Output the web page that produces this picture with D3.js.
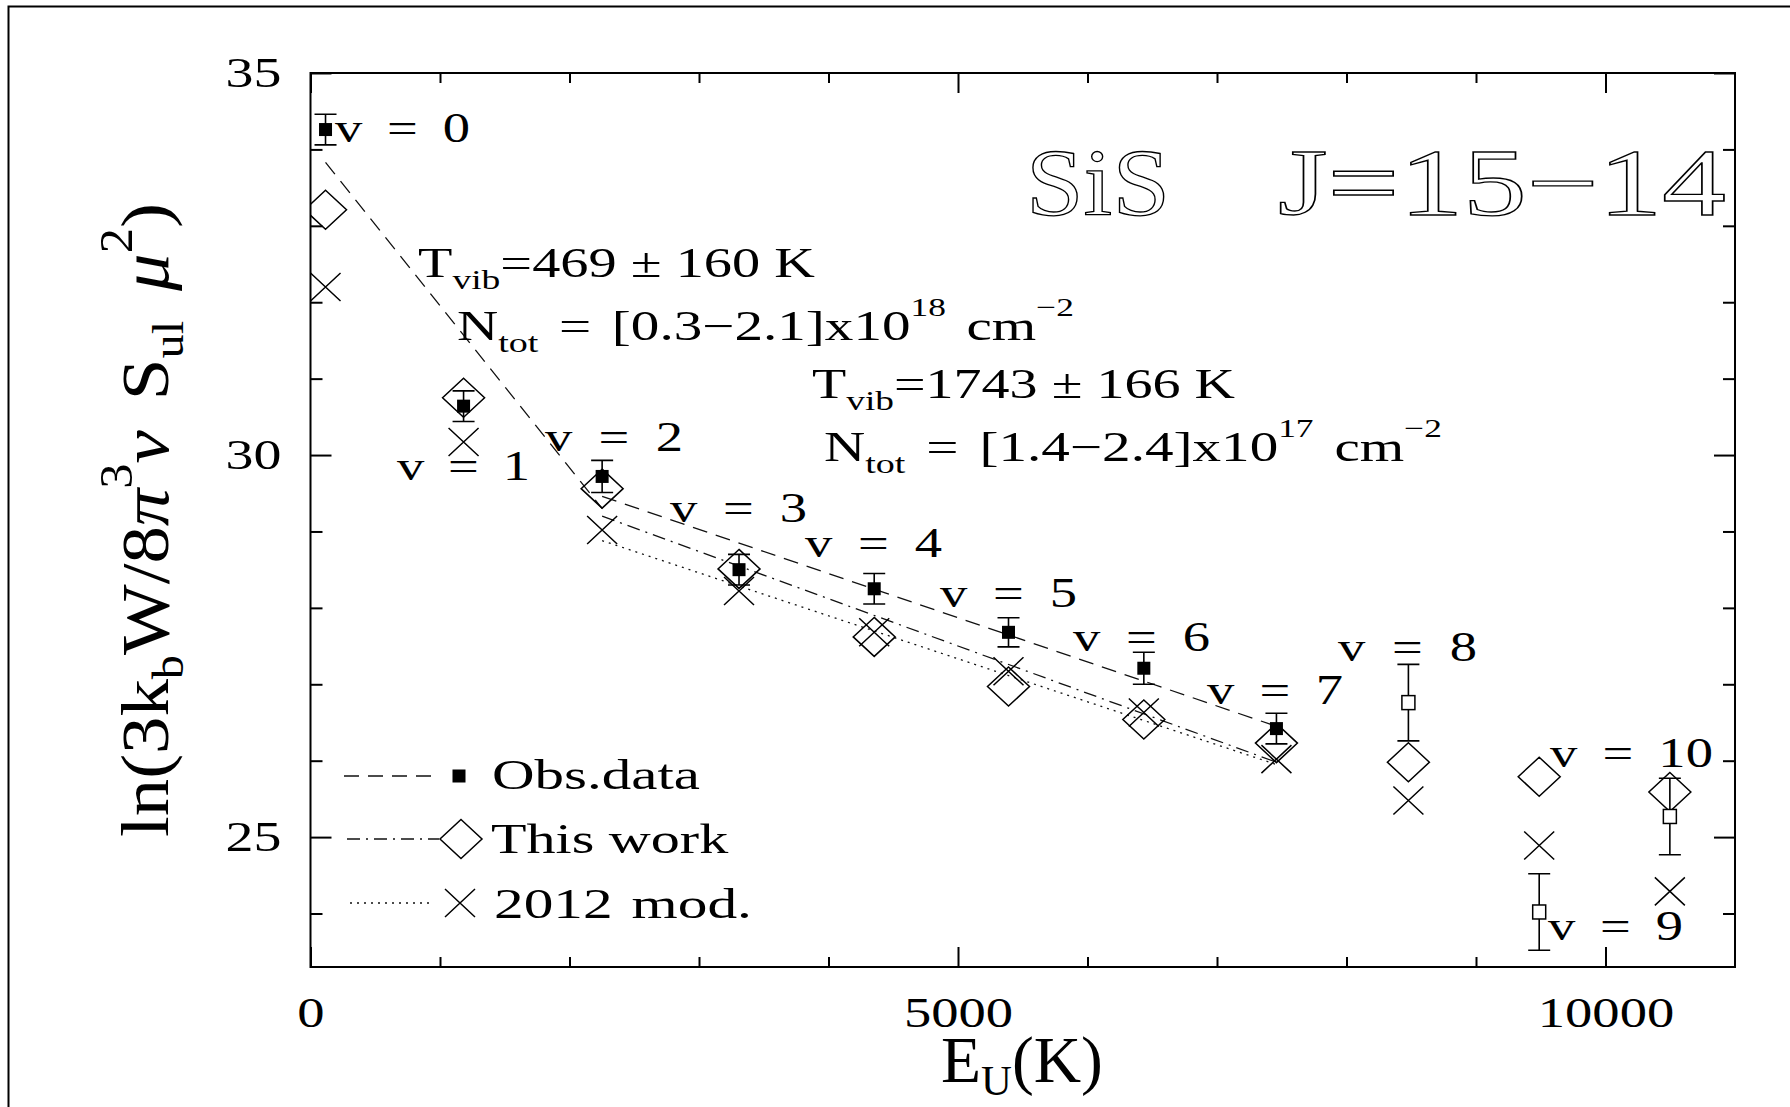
<!DOCTYPE html>
<html>
<head>
<meta charset="utf-8">
<script src="https://cdn.jsdelivr.net/npm/d3@7"></script>
<style>
  html, body { margin: 0; padding: 0; background: #fff; }
  svg { display: block; }
  text { font-family: "Liberation Serif", "DejaVu Serif", serif; fill: #000; white-space: pre; }
</style>
</head>
<body>
<svg id="chart" width="1790" height="1107"></svg>
<script>
// SiS J=15-14 rotational diagram across vibrational levels v = 0..10
const levels        = [0, 1, 2, 3, 4, 5, 6, 7, 8, 9, 10];
const upperEnergy   = [116, 1182, 2252, 3309, 4353, 5390, 6435, 7459, 8478, 9488, 10497]; // E_U (K)
const obsValue      = [34.26, 30.64, 29.72, 28.50, 28.25, 27.68, 27.21, 26.42, 26.76, 24.02, 25.27];
const obsError      = [0.20, 0.20, 0.21, 0.20, 0.20, 0.19, 0.21, 0.20, 0.50, 0.50, 0.50];
const obsTentative  = [false, false, false, false, false, false, false, false, true, true, true];
const thisWork      = [33.21, 30.75, 29.56, 28.51, 27.62, 26.97, 26.54, 26.23, 25.98, 25.79, 25.59];
const model2012     = [32.20, 30.17, 29.02, 28.22, 27.68, 27.17, 26.63, 26.02, 25.48, 24.89, 24.29];

// straight-line fits (end points)
const fitObsLowE  = [116, 2252],  fitObsLowV  = [33.83, 29.30];   // T_vib = 469 K
const fitObsHighE = [2252, 7459], fitObsHighV = [29.46, 26.45];   // T_vib = 1743 K
const fitWorkE    = [2252, 7459], fitWorkV    = [29.20, 25.98];
const fitModelE   = [2252, 7459], fitModelV   = [28.88, 25.95];

// axes
const xDomain = [0, 11000];
const yDomain = [23.3, 35];
const xMajorTicks = [0, 5000, 10000];
const xMinorTicks = [1000, 2000, 3000, 4000, 6000, 7000, 8000, 9000];
const yMajorTicks = [25, 30, 35];
const yMinorTicks = [24, 26, 27, 28, 29, 31, 32, 33, 34];

// text
const levelLabels = levels.map(v => "v = " + v);
const legendNames = ["Obs.data", "This work", "2012 mod."];
const fitTexts = [
  [{t: "T"}, {t: "vib", sub: true}, {t: "=469 ± 160 K"}],
  [{t: "N"}, {t: "tot", sub: true}, {t: " = [0.3−2.1]x10"}, {t: "18", sup: true}, {t: " cm"}, {t: "−2", sup: true}],
  [{t: "T"}, {t: "vib", sub: true}, {t: "=1743 ± 166 K"}],
  [{t: "N"}, {t: "tot", sub: true}, {t: " = [1.4−2.4]x10"}, {t: "17", sup: true}, {t: " cm"}, {t: "−2", sup: true}]
];

// ---------- layout ----------
const plot = {left: 310.5, right: 1735, top: 73, bottom: 967};
const svg = d3.select("#chart");
const x = d3.scaleLinear().domain(xDomain).range([plot.left, plot.right]);
const y = d3.scaleLinear().domain(yDomain).range([plot.bottom, plot.top]);

// text placed between two x limits: glyphs widened a little, spaces take the rest
function fitText(parent, parts, x0, x1, baseline, size, opt) {
  opt = opt || {};
  const t = parent.append("text").attr("x", 0).attr("y", baseline).attr("font-size", size);
  let shift = 0;
  parts.forEach(p => {
    const ts = t.append("tspan").text(p.t);
    let off = 0, fs = size;
    if (p.sub) { off = opt.subShift; fs = opt.subSize; }
    if (p.sup) { off = opt.supShift; fs = opt.supSize; }
    ts.attr("dy", off - shift).attr("font-size", fs);
    if (p.italic) ts.attr("font-style", "italic");
    shift = off;
  });
  const spaces = (t.text().match(/ /g) || []).length;
  let bb = t.node().getBBox();
  if (opt.stretch && spaces > 0) {
    const ws = ((x1 - x0) / opt.stretch - bb.width) / spaces;
    if (ws > 0) { t.style("word-spacing", ws + "px"); bb = t.node().getBBox(); }
  }
  const s = (x1 - x0) / bb.width;
  t.attr("transform", `translate(${x0 - bb.x * s},0) scale(${s},1)`);
  return t;
}

// outer frame
svg.append("path").attr("d", "M8.5,1107V6.5H1790").attr("fill", "none")
  .attr("stroke", "#000").attr("stroke-width", 2);

// ---------- axes ----------
function addAxis(gen, transform, values, size, withLabels) {
  const g = svg.append("g").attr("transform", transform)
    .call(gen.tickValues(values).tickSizeInner(-size).tickSizeOuter(0)
      .tickFormat(withLabels ? d3.format("d") : ""));
  g.select(".domain").remove();
  g.selectAll(".tick line").attr("stroke", "#000").attr("stroke-width", 2);
  return g;
}
const leftMajor = addAxis(d3.axisLeft(y), `translate(${plot.left},0)`, yMajorTicks, 21, true);
addAxis(d3.axisLeft(y), `translate(${plot.left},0)`, yMinorTicks, 12, false);
addAxis(d3.axisRight(y), `translate(${plot.right},0)`, yMajorTicks, 21, false);
addAxis(d3.axisRight(y), `translate(${plot.right},0)`, yMinorTicks, 12, false);
const bottomMajor = addAxis(d3.axisBottom(x), `translate(0,${plot.bottom})`, xMajorTicks, 20, true);
addAxis(d3.axisBottom(x), `translate(0,${plot.bottom})`, xMinorTicks, 10, false);
addAxis(d3.axisTop(x), `translate(0,${plot.top})`, xMajorTicks, 20, false);
addAxis(d3.axisTop(x), `translate(0,${plot.top})`, xMinorTicks, 10, false);

leftMajor.selectAll(".tick text")
  .attr("x", 0).attr("dy", "0.32em").attr("font-size", 43)
  .attr("transform", "translate(-29,0) scale(1.3,1)");
bottomMajor.selectAll(".tick text")
  .attr("y", 60).attr("dy", 0).attr("font-size", 42)
  .attr("transform", "scale(1.3,1)");

svg.append("rect")
  .attr("x", plot.left).attr("y", plot.top)
  .attr("width", plot.right - plot.left).attr("height", plot.bottom - plot.top)
  .attr("fill", "none").attr("stroke", "#000").attr("stroke-width", 2);

// axis titles
fitText(svg, [{t: "E"}, {t: "U", sub: true}, {t: "(K)"}], 941, 1103, 1082.5, 66,
  {subShift: 12.5, subSize: 43});
const yTitle = svg.append("g").attr("transform", "translate(168,0) rotate(-90)");
fitText(yTitle, [
  {t: "ln(3k"}, {t: "b", sub: true}, {t: "W/8"}, {t: "π", italic: true}, {t: "3", sup: true},
  {t: "ν", italic: true}, {t: " S"}, {t: "ul", sub: true}, {t: " "}, {t: "μ", italic: true},
  {t: "2", sup: true}, {t: ")"}
], -837, -203, 0, 68, {subShift: 15, subSize: 44, supShift: -36, supSize: 46, stretch: 1.1});

// ---------- data ----------
svg.append("defs").append("clipPath").attr("id", "plotArea").append("rect")
  .attr("x", plot.left).attr("y", plot.top)
  .attr("width", plot.right - plot.left).attr("height", plot.bottom - plot.top);
const data = svg.append("g").attr("clip-path", "url(#plotArea)");

const line = d3.line().x(d => x(d[0])).y(d => y(d[1]));
const fits = [
  {e: fitObsLowE,  v: fitObsLowV,  dash: "15,9"},
  {e: fitObsHighE, v: fitObsHighV, dash: "15,9"},
  {e: fitWorkE,    v: fitWorkV,    dash: "13,6,2,6"},
  {e: fitModelE,   v: fitModelV,   dash: "2,5"}
];
fits.forEach(f => {
  data.append("path").attr("d", line(d3.zip(f.e, f.v)))
    .attr("fill", "none").attr("stroke", "#111").attr("stroke-width", 1.3)
    .attr("stroke-dasharray", f.dash);
});

const diamondPath = (cx, cy) => `M${cx},${cy - 19.5}L${cx + 21},${cy}L${cx},${cy + 19.5}L${cx - 21},${cy}Z`;
const crossPath = (cx, cy) => `M${cx - 15},${cy - 14}L${cx + 15},${cy + 14}M${cx - 15},${cy + 14}L${cx + 15},${cy - 14}`;

// 2012 model
data.selectAll("path.cross").data(levels).join("path").attr("class", "cross")
  .attr("d", i => crossPath(x(upperEnergy[i]), y(model2012[i])))
  .attr("fill", "none").attr("stroke", "#000").attr("stroke-width", 1.5);

// this work
data.selectAll("path.diamond").data(levels).join("path").attr("class", "diamond")
  .attr("d", i => diamondPath(x(upperEnergy[i]), y(thisWork[i])))
  .attr("fill", "none").attr("stroke", "#000").attr("stroke-width", 1.5);

// observations with error bars
const bars = data.selectAll("g.obs").data(levels).join("g").attr("class", "obs");
bars.append("path")
  .attr("d", i => {
    const cx = x(upperEnergy[i]);
    const y0 = y(obsValue[i] - obsError[i]), y1 = y(obsValue[i] + obsError[i]);
    return `M${cx},${y0}V${y1}M${cx - 11},${y0}H${cx + 11}M${cx - 11},${y1}H${cx + 11}`;
  })
  .attr("fill", "none").attr("stroke", "#000").attr("stroke-width", 1.6);
bars.append("rect")
  .attr("x", i => x(upperEnergy[i]) - 6.5)
  .attr("y", i => y(obsValue[i]) - (obsTentative[i] ? 7 : 6.5))
  .attr("width", 13)
  .attr("height", i => obsTentative[i] ? 14 : 13)
  .attr("fill", i => obsTentative[i] ? "#fff" : "#000")
  .attr("stroke", "#000").attr("stroke-width", i => obsTentative[i] ? 1.5 : 0);

// ---------- labels ----------
const levelLabelBox = [
  [335, 470, 142], [397, 530, 480], [545, 683, 451], [670, 807, 522],
  [805, 942, 557], [940, 1077, 607], [1073, 1210, 651], [1207, 1343, 704],
  [1338, 1477, 661], [1548, 1683, 940], [1550, 1713, 767]
];
levelLabels.forEach((s, i) => {
  const b = levelLabelBox[i];
  fitText(svg, [{t: s}], b[0], b[1], b[2], 42, {stretch: 1.3});
});

const fitTextBox = [[418, 815, 277], [457, 1074, 340], [812, 1235, 398], [824, 1442, 461]];
fitTexts.forEach((parts, i) => {
  const b = fitTextBox[i];
  fitText(svg, parts, b[0], b[1], b[2], 42,
    {stretch: 1.36, subShift: 12, subSize: 28, supShift: -24, supSize: 26});
});

// title, outlined lettering
const titleStyle = t => t.attr("stroke", "#000")
  .attr("stroke-width", 1.3).attr("vector-effect", "non-scaling-stroke")
  .style("fill", "#fff");
titleStyle(fitText(svg, [{t: "SiS"}], 1026, 1170, 215, 95));
titleStyle(fitText(svg, [{t: "J=15−14"}], 1278, 1726, 215, 95));

// ---------- legend ----------
const legend = svg.append("g");
const legendRows = [
  {y: 776, dash: "15,9", x0: 344, x1: 436, text: 789.5},
  {y: 839, dash: "13,6,2,6", x0: 347, x1: 439, text: 853},
  {y: 903, dash: "2,5", x0: 350, x1: 430, text: 918}
];
const legendTextBox = [[492, 700], [491, 729], [494, 752]];
legendRows.forEach((r, i) => {
  legend.append("path").attr("d", `M${r.x0},${r.y}H${r.x1}`)
    .attr("stroke", "#111").attr("stroke-width", 1.3).attr("stroke-dasharray", r.dash);
  fitText(legend, [{t: legendNames[i]}], legendTextBox[i][0], legendTextBox[i][1], r.text, 43, {stretch: 1.38});
});
legend.append("rect").attr("x", 452.5).attr("y", 769.5).attr("width", 13).attr("height", 13).attr("fill", "#000");
legend.append("path").attr("d", diamondPath(461, 839)).attr("fill", "none").attr("stroke", "#000").attr("stroke-width", 1.5);
legend.append("path").attr("d", crossPath(460, 903)).attr("fill", "none").attr("stroke", "#000").attr("stroke-width", 1.5);
</script>
</body>
</html>
